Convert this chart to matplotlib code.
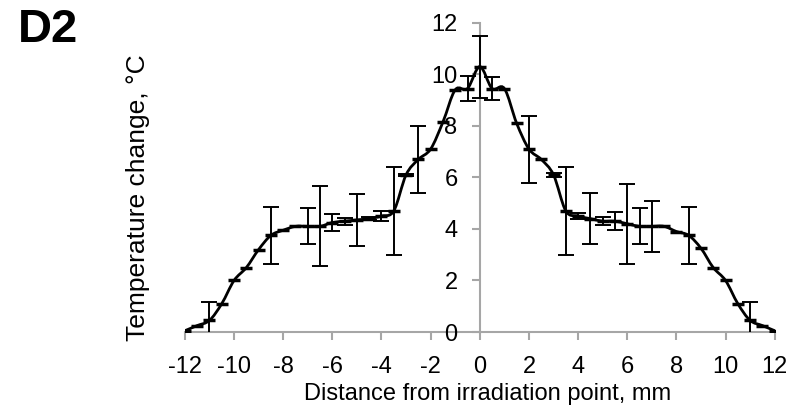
import numpy as np
import matplotlib
matplotlib.use("Agg")
import matplotlib.pyplot as plt
from matplotlib.path import Path
from matplotlib.patches import PathPatch

plt.rcParams['font.family'] = ['Liberation Sans', 'DejaVu Sans']
plt.rcParams['axes.unicode_minus'] = False

# distance from irradiation point, mm
distance = [-12, -11.5, -11, -10.5, -10, -9.5, -9, -8.5, -8, -7.5, -7, -6.5,
            -6, -5.5, -5, -4.5, -4, -3.5, -3, -2.5, -2, -1.5, -1, -0.5,
            0, 0.5, 1, 1.5, 2, 2.5, 3, 3.5, 4, 4.5, 5, 5.5, 6, 6.5,
            7, 7.5, 8, 8.5, 9, 9.5, 10, 10.5, 11, 11.5, 12]

# mean temperature change, deg C
temp_change = [0.05, 0.25, 0.45, 1.1, 2.0, 2.5, 3.2, 3.75, 3.95, 4.1, 4.1, 4.1,
               4.25, 4.3, 4.35, 4.4, 4.5, 4.7, 6.1, 6.7, 7.1, 8.15, 9.4, 9.45,
               10.3, 9.45, 9.45, 8.1, 7.1, 6.7, 6.1, 4.7, 4.5, 4.4, 4.3, 4.3, 4.2, 4.1,
               4.1, 4.1, 3.9, 3.75, 3.25, 2.5, 2.0, 1.1, 0.45, 0.25, 0.05]

# error (sd)
temp_err = [0, 0, 0.7, 0, 0, 0, 0, 1.1, 0, 0, 0.7, 1.55,
            0.33, 0.14, 1.0, 0.05, 0.2, 1.7, 0.05, 1.3, 0, 0, 0, 0.47,
            1.2, 0.45, 0, 0, 1.3, 0, 0.08, 1.7, 0.1, 1.0, 0.15, 0.35, 1.55, 0.7,
            1.0, 0, 0, 1.1, 0, 0, 0, 0, 0.7, 0, 0]

x_ticks = list(range(-12, 13, 2))
y_ticks = list(range(0, 13, 2))


def smooth_path(xs, ys, k=1.0 / 6):
    # excel-style smoothed line: cubic bezier through each point
    xs = np.asarray(xs, float)
    ys = np.asarray(ys, float)
    n = len(xs)
    verts = [(xs[0], ys[0])]
    codes = [Path.MOVETO]
    for i in range(n - 1):
        p0 = (xs[max(i - 1, 0)], ys[max(i - 1, 0)])
        p1 = (xs[i], ys[i])
        p2 = (xs[i + 1], ys[i + 1])
        p3 = (xs[min(i + 2, n - 1)], ys[min(i + 2, n - 1)])
        c1 = (p1[0] + (p2[0] - p0[0]) * k, p1[1] + (p2[1] - p0[1]) * k)
        c2 = (p2[0] - (p3[0] - p1[0]) * k, p2[1] - (p3[1] - p1[1]) * k)
        verts += [c1, c2, p2]
        codes += [Path.CURVE4] * 3
    return Path(verts, codes)


fig = plt.figure(figsize=(7.97, 4.15), dpi=100)
ax = fig.add_axes([0.232, 0.2, 0.74, 0.745])

ax.add_patch(PathPatch(smooth_path(distance, temp_change), fill=False,
                       edgecolor='black', lw=2.0, zorder=3))

err = np.array(temp_err)
mask = err > 0
ax.errorbar(np.array(distance)[mask], np.array(temp_change)[mask], yerr=err[mask],
            fmt='none', ecolor='black', elinewidth=1.4, capsize=6, capthick=1.4,
            zorder=4)
ax.plot(distance, temp_change, linestyle='none', marker='_', markersize=9,
        markeredgewidth=2.5, color='black', zorder=5)

ax.set_xlim(-12, 12)
ax.set_ylim(0, 12)
ax.set_xticks(x_ticks)
ax.set_yticks(y_ticks)

ax.spines['left'].set_position(('data', 0))
ax.spines['bottom'].set_position(('data', 0))
ax.spines['top'].set_visible(False)
ax.spines['right'].set_visible(False)
for s in ('left', 'bottom'):
    ax.spines[s].set_color('#a6a6a6')
    ax.spines[s].set_linewidth(1.5)
    ax.spines[s].set_zorder(1)

ax.tick_params(axis='both', colors='#a6a6a6', width=1.5, length=6,
               labelsize=17, labelcolor='black')
ax.tick_params(axis='x', pad=11)
ax.tick_params(axis='y', pad=10)

ax.set_xlabel('Distance from irradiation point, mm', fontsize=17, labelpad=4)
ax.xaxis.label.set_x(0.513)
fig.text(0.173, 0.524, 'Temperature change, °C', rotation=90, fontsize=19,
         ha='center', va='center')
fig.text(0.022, 0.98, 'D2', fontsize=34, fontweight='bold', ha='left', va='top')

fig.savefig('out.png', dpi=100)
